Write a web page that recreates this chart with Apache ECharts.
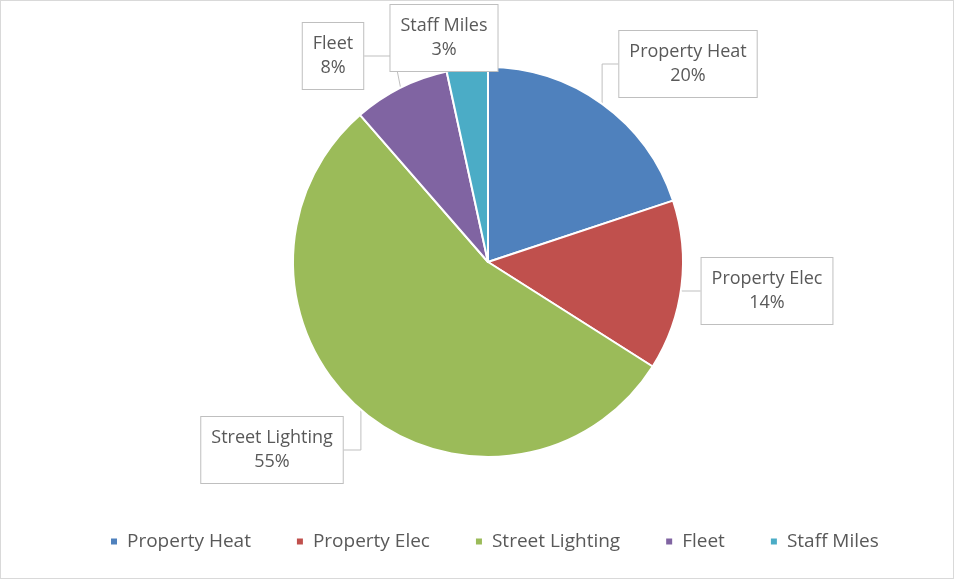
<!DOCTYPE html>
<html>
<head>
<meta charset="utf-8">
<script src="https://cdn.jsdelivr.net/npm/echarts@6/dist/echarts.min.js"></script>
<style>
  html, body { margin: 0; padding: 0; background: #fff; }
  #chart { width: 952px; height: 577px; border: 1px solid #d9d9d9; }
</style>
</head>
<body>
<div id="chart"></div>
<script>
// 数据
const categories = ['Property Heat', 'Property Elec', 'Street Lighting', 'Fleet', 'Staff Miles']
const values = [19.9, 14.1, 54.6, 8.0, 3.4]
const colors = ['#4F81BD', '#C0504D', '#9BBB59', '#8064A2', '#4BACC6']

// 标注框中心位置
const labelCenters = [[687, 63], [766, 290], [271, 449], [332, 55], [443, 37]]

const chart = echarts.init(document.getElementById('chart'))

const option = {
  color: colors,
  textStyle: { fontFamily: 'Open Sans' },
  legend: {
    data: categories,
    bottom: 22,
    left: 103,
    icon: 'rect',
    itemWidth: 8,
    itemHeight: 8,
    itemGap: 44,
    textStyle: { fontSize: 19, color: '#595959', fontFamily: 'Open Sans', padding: [0, 0, 0, 4] }
  },
  series: [
    {
      type: 'pie',
      center: [487, 261],
      radius: 195,
      startAngle: 90,
      clockwise: true,
      avoidLabelOverlap: false,
      itemStyle: { borderColor: '#fff', borderWidth: 2 },
      label: {
        show: true,
        formatter: p => p.name + '\n' + Math.round(p.percent) + '%',
        fontSize: 18,
        lineHeight: 24,
        color: '#595959',
        fontFamily: 'Open Sans',
        backgroundColor: '#fff',
        borderColor: '#bfbfbf',
        borderWidth: 1,
        padding: [9, 10, 9, 10],
        align: 'center'
      },
      labelLine: {
        show: true,
        lineStyle: { color: '#bfbfbf', width: 1 }
      },
      labelLayout: params => {
        const c = labelCenters[params.dataIndex]
        return { x: c[0], y: c[1], align: 'center', verticalAlign: 'middle' }
      },
      data: categories.map((name, i) => ({ name, value: values[i] }))
    }
  ]
}

chart.setOption(option)
</script>
</body>
</html>
